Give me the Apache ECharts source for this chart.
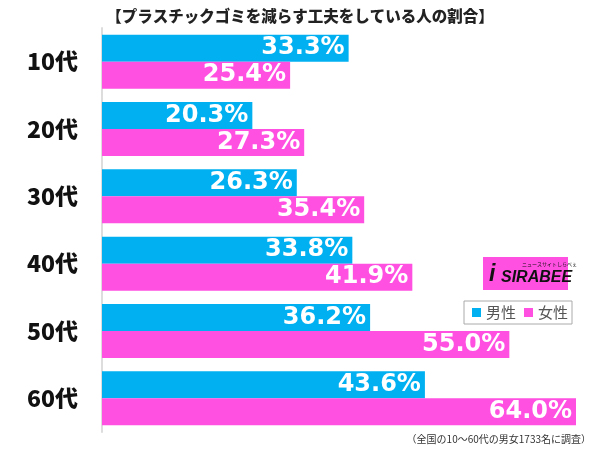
<!DOCTYPE html>
<html>
<head>
<meta charset="utf-8">
<script src="https://cdn.jsdelivr.net/npm/echarts@6/dist/echarts.min.js"></script>
<style>
  html, body { margin: 0; padding: 0; background: #fff; }
  #chart { width: 600px; height: 449px; }
</style>
</head>
<body>
<div id="chart"></div>
<script>
// 年代
let ages = ['10代', '20代', '30代', '40代', '50代', '60代'];
// 男性 / 女性 (%)
let maleData = [33.3, 20.3, 26.3, 33.8, 36.2, 43.6];
let femaleData = [25.4, 27.3, 35.4, 41.9, 55.0, 64.0];

let titleText = '【プラスチックゴミを減らす工夫をしている人の割合】';
let noteText = '（全国の10～60代の男女1733名に調査）';

let jpFont = '"Noto Sans CJK JP", "Noto Sans", sans-serif';
let numFont = '"DejaVu Sans", Arial, sans-serif';

function barLabel(){
    return {
        show: true,
        position: 'insideRight',
        distance: 4,
        color: '#fff',
        fontSize: 24,
        fontWeight: 'bold',
        fontFamily: numFont,
        formatter: function (p) { return p.value.toFixed(1) + '%'; }
    };
}

let myChart = echarts.init(document.getElementById('chart'));

let option = {
    animation: false,
    title: {
        text: titleText,
        left: 'center',
        top: 3,
        textStyle: { fontSize: 15.5, fontWeight: 900, color: '#222', fontFamily: jpFont }
    },
    legend: {
        data: ['男性', '女性'],
        left: 464,
        top: 301,
        icon: 'rect',
        itemWidth: 9,
        itemHeight: 9,
        itemGap: 8,
        padding: [4, 4, 4, 8],
        borderColor: '#aaa',
        borderWidth: 1,
        textStyle: { fontSize: 15, color: '#555', fontFamily: jpFont }
    },
    grid: {
        left: 102,
        top: 28,
        width: 474,
        height: 404
    },
    xAxis: {
        type: 'value',
        min: 0,
        max: 64,
        show: false
    },
    yAxis: {
        type: 'category',
        inverse: true,
        data: ages,
        axisLine: { show: true, lineStyle: { color: '#ddd', width: 2 } },
        axisTick: { show: false },
        axisLabel: {
            margin: 24,
            fontSize: 23,
            fontWeight: 900,
            color: '#111',
            fontFamily: jpFont
        }
    },
    graphic: [
        {
            type: 'rect',
            shape: { x: 483, y: 257, width: 85, height: 33 },
            style: { fill: '#ff50e1' }
        },
        {
            type: 'text',
            style: {
                x: 489, y: 263,
                text: 'i',
                font: 'italic bold 23px "Liberation Sans"',
                fill: '#111'
            }
        },
        {
            type: 'text',
            style: {
                x: 501, y: 270,
                text: 'SIRABEE',
                font: 'italic bold 16px "Liberation Sans"',
                fill: '#111'
            }
        },
        {
            type: 'text',
            style: {
                x: 522, y: 262,
                text: 'ニュースサイトしらべぇ',
                font: '5px "Noto Sans CJK JP"',
                fill: '#111'
            }
        },
        {
            type: 'text',
            right: 9,
            top: 434,
            style: {
                text: noteText,
                font: '10px "Noto Sans CJK JP"',
                fill: '#333'
            }
        }
    ],
    series: [
        {
            name: '男性',
            type: 'bar',
            data: maleData,
            barWidth: 27,
            barGap: '0%',
            itemStyle: { color: '#00b0f0' },
            label: barLabel()
        },
        {
            name: '女性',
            type: 'bar',
            data: femaleData,
            barWidth: 27,
            barGap: '0%',
            itemStyle: { color: '#ff50e1' },
            label: barLabel()
        }
    ]
};

myChart.setOption(option);
</script>
</body>
</html>
